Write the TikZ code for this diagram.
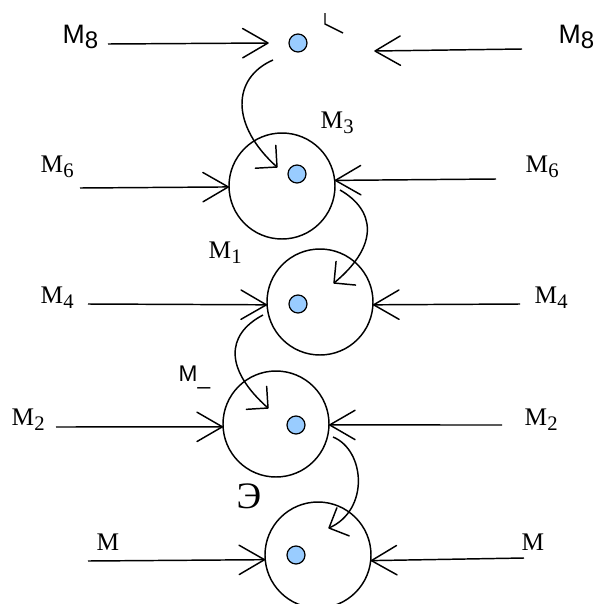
\documentclass[tikz,border=0pt]{standalone}
\usepackage{fontspec}
\setmainfont{Liberation Serif}
\setsansfont{Liberation Sans}
\usetikzlibrary{arrows.meta}
\definecolor{dotblue}{HTML}{99CCFF}
\newcommand{\subs}[1]{\raisebox{-3.75pt}{\fontsize{15.5}{17}\selectfont #1}}
\newcommand{\subss}[1]{\raisebox{-3.75pt}{\fontsize{18}{20}\selectfont #1}}
\pgfdeclarearrow{
  name = Vee,
  parameters = {\the\pgfarrowlength,\the\pgfarrowwidth},
  setup code = {
    \pgfarrowssettipend{0pt}
    \pgfarrowssetlineend{0pt}
    \pgfarrowssetbackend{-\pgfarrowlength}
    \pgfarrowsupperhullpoint{-\pgfarrowlength}{.5\pgfarrowwidth}
    \pgfarrowsupperhullpoint{0pt}{0pt}
    \pgfarrowssavethe\pgfarrowlength
    \pgfarrowssavethe\pgfarrowwidth
  },
  drawing code = {
    \pgfsetdash{}{0pt}
    \pgfsetroundjoin
    \pgfsetroundcap
    \pgfpathmoveto{\pgfqpoint{-\pgfarrowlength}{.5\pgfarrowwidth}}
    \pgfpathlineto{\pgfpointorigin}
    \pgfpathlineto{\pgfqpoint{-\pgfarrowlength}{-.5\pgfarrowwidth}}
    \pgfusepathqstroke
  },
  defaults = {length = 10pt, width = 10pt}
}
\begin{document}
\begin{tikzpicture}[x=0.75pt,y=-0.75pt,
  every path/.style={line width=1.1pt},
  ring/.style={circle,draw,line width=1.1pt,minimum size=79.5pt,inner sep=0pt},
  dotnode/.style={circle,draw,fill=dotblue,line width=0.9pt,minimum size=13.5pt,inner sep=0pt},
  barb/.style={-{Vee[length=19pt,width=22pt]}},
  cbarb/.style={-{Vee[length=11.5pt,width=23pt]}},
  lab/.style={anchor=base west,inner sep=0pt,font=\fontsize{19}{21}\selectfont},
  slab/.style={anchor=base west,inner sep=0pt,font=\sffamily\fontsize{20}{22}\selectfont}]
\useasboundingbox (0,0) rectangle (595,604);
% rings
\node[ring] (c1) at (282,186) {};
\node[ring] (c2) at (320,302) {};
\node[ring] (c3) at (276,424) {};
\node[ring] (c4) at (318,555) {};
% dots
\node[dotnode] (d0) at (298,43) {};
\node[dotnode] (d1) at (297,174) {};
\node[dotnode] (d2) at (298,304) {};
\node[dotnode] (d3) at (296,425) {};
\node[dotnode] (d4) at (296,555) {};
% labels
\node[slab] (m8l) at (62,43) {M\subss{8}};
\node[slab] (m8r) at (558,43) {M\subss{8}};
\node[lab] (m3) at (320,128) {M\subs{3}};
\node[lab] (m6l) at (40,172) {M\subs{6}};
\node[lab] (m6r) at (525,172) {M\subs{6}};
\node[lab] (m1) at (208,258) {M\subs{1}};
\node[lab] (m4l) at (40,303) {M\subs{4}};
\node[lab] (m4r) at (534,303) {M\subs{4}};
\node[slab,font=\sffamily\fontsize{17}{19}\selectfont] (mu) at (178,381) {M\raisebox{-2.5pt}{\_}};
\node[lab] (m2l) at (11,425) {M\subs{2}};
\node[lab] (m2r) at (524,425) {M\subs{2}};
\node[lab,font=\fontsize{28}{30}\selectfont] (e) at (236,508) {Э};
\node[lab] (ml) at (96,550) {M};
\node[lab] (mr) at (521,550) {M};
% coordinates for free ends
\coordinate (a0l) at (108,44);
\coordinate (t0l) at (268,43);
\coordinate (a0r) at (522,49);
\coordinate (t0r) at (375,51);
\coordinate (a1l) at (80,188);
\coordinate (a1r) at (496,179);
\coordinate (a2l) at (88,304);
\coordinate (a2r) at (520,304);
\coordinate (a3l) at (56,427);
\coordinate (a3r) at (502,425);
\coordinate (a4l) at (88,561);
\coordinate (a4r) at (524,558);
% straight arrows
\draw[barb] (a0l) -- (t0l);
\draw[barb] (a0r) -- (t0r);
\draw[barb] (a1l) -- (c1.181);
\draw[barb] (a1r) -- (c1.6);
\draw[barb] (a2l) -- (c2.183);
\draw[barb] (a2r) -- (c2.-3);
\draw[barb] (a3l) -- (c3.183);
\draw[barb] (a3r) -- (c3.-1);
\draw[barb] (a4l) -- (c4.185);
\draw[barb] (a4r) -- (c4.-6);
% curved arrows
\coordinate (s1) at (273,60);
\coordinate (e1) at (277,167);
\coordinate (s2) at (340,190);
\coordinate (e2) at (334,283);
\coordinate (s3) at (263,315);
\coordinate (e3) at (268,408);
\coordinate (s4) at (333,437);
\coordinate (e4) at (329,528);
\draw[cbarb] (s1) .. controls (232,78) and (230,125) .. (e1);
\draw[cbarb] (s2) .. controls (375,210) and (380,245) .. (e2);
\draw[cbarb] (s3) .. controls (225,335) and (225,370) .. (e3);
\draw[cbarb] (s4) .. controls (365,450) and (370,510) .. (e4);
% small mark at top
\coordinate (k1) at (325,13);
\coordinate (k2) at (325,24);
\coordinate (k3) at (343,33);
\draw (k1) -- (k2) -- (k3);
\end{tikzpicture}
\end{document}
